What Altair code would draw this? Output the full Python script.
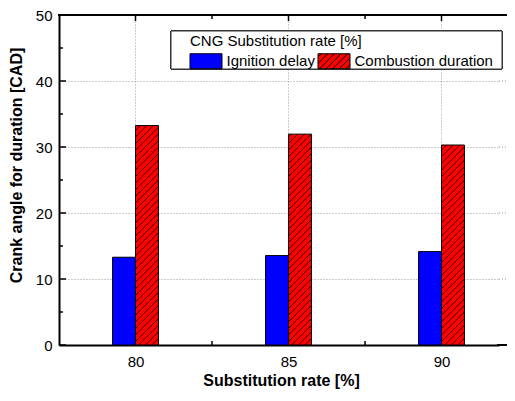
import altair as alt
import pandas as pd
import numpy as np

# ---- data ----
rates = [80, 85, 90]
ignition_delay = [13.3, 13.55, 14.15]
combustion_duration = [33.25, 31.95, 30.3]
series_names = ["Ignition delay", "Combustion duration"]
series_colors = ["#0000ff", "#ff0000"]
legend_title = "CNG Substitution rate [%]"
x_title = "Substitution rate [%]"
y_title = "Crank angle for duration [CAD]"
x_major_ticks = [80, 85, 90]
x_minor_ticks = [82.5, 87.5]
y_major_ticks = [0, 10, 20, 30, 40, 50]
y_minor_ticks = [5, 15, 25, 35, 45]

# ---- layout / style ----
W, H = 440, 330
PAD_TOP = 7
PAD_RIGHT = 8
XDOM = [77.5, 77.5 + 440 / 30.6]
YDOM = [0, 50]
BAR_W = 0.75
HATCH_STEP = 6.6  # px
FONT = "Arial, Liberation Sans, sans-serif"

px_x = W / (XDOM[1] - XDOM[0])
px_y = H / (YDOM[1] - YDOM[0])

rows = []
for r, a, b in zip(rates, ignition_delay, combustion_duration):
    rows.append({"rate": r, "series": series_names[0], "value": a, "x0": r - BAR_W, "x1": r})
    rows.append({"rate": r, "series": series_names[1], "value": b, "x0": r, "x1": r + BAR_W})
bars_df = pd.DataFrame(rows)

# hatch segments for the combustion bars (45 degree lines clipped to each bar)
hrows = []
for r, v in zip(rates, combustion_duration):
    bw = BAR_W * px_x
    bh = v * px_y
    c = -bw
    k = 0
    while c < bh:
        xlo = max(0.0, -c)
        xhi = min(bw, bh - c)
        if xhi > xlo:
            hrows.append({"id": f"{r}-{k}",
                          "hx": r + xlo / px_x, "hy": (xlo + c) / px_y,
                          "hx2": r + xhi / px_x, "hy2": (xhi + c) / px_y})
        c += HATCH_STEP
        k += 1
hatch_df = pd.DataFrame(hrows)

# legend swatch paths (pixel geometry relative to the symbol centre, unit = 7.5 px)
SYM_SIZE = 225
unit = np.sqrt(SYM_SIZE) / 2
sx0, sx1, sy0, sy1 = -8.0, 24.0, -7.5, 7.5


def u(v):
    return f"{v / unit:.3f}"


rect_path = f"M{u(sx0)},{u(sy0)}L{u(sx1)},{u(sy0)}L{u(sx1)},{u(sy1)}L{u(sx0)},{u(sy1)}Z"
hp = rect_path
c = sx0 + sy0 + HATCH_STEP / 2  # lines y = -x + c (svg coords)
while c < sx1 + sy1:
    xlo = max(sx0, c - sy1)
    xhi = min(sx1, c - sy0)
    if xhi > xlo:
        hp += f"M{u(xlo)},{u(c - xlo)}L{u(xhi)},{u(c - xhi)}"
    c += HATCH_STEP
shape_paths = [rect_path, hp]

xscale = alt.Scale(domain=XDOM, nice=False, zero=False)
yscale = alt.Scale(domain=YDOM, nice=False)
cscale = alt.Scale(domain=series_names, range=series_colors)

base = alt.Chart(bars_df)

bars = base.mark_rect(stroke="black", strokeWidth=1).encode(
    x=alt.X("x0:Q", scale=xscale,
            axis=alt.Axis(values=x_major_ticks, title=x_title, format="d",
                          grid=True, ticks=False, labelPadding=9,
                          titleBaseline="alphabetic", titleY=385 - 8 - PAD_TOP - H,
                          titleX=222)),
    x2="x1:Q",
    y=alt.Y("value:Q", scale=yscale,
            axis=alt.Axis(values=y_major_ticks, title=y_title, grid=True,
                          ticks=False, labelPadding=7, titleX=-35,
                          titleY=165 - 8 - PAD_TOP)),
    y2=alt.datum(0),
    color=alt.Color("series:N", scale=cscale),
)

hatch = alt.Chart(hatch_df).mark_rule(color="black", strokeWidth=0.8).encode(
    x=alt.X("hx:Q", scale=xscale), x2="hx2:Q",
    y=alt.Y("hy:Q", scale=yscale), y2="hy2:Q",
)

leg = dict(title=legend_title, orient="none", legendX=131, legendY=34 - 8 - PAD_TOP,
           direction="horizontal", symbolSize=SYM_SIZE, symbolStrokeColor="black",
           symbolStrokeWidth=1, symbolOpacity=1, labelOffset=20.5,
           columnPadding=0, titlePadding=4, padding=0)

legend_pts = base.mark_point(filled=True, opacity=0).encode(
    x=alt.X("rate:Q", scale=xscale),
    y=alt.Y("value:Q", scale=yscale),
    color=alt.Color("series:N", scale=cscale, legend=alt.Legend(**leg)),
    shape=alt.Shape("series:N", scale=alt.Scale(domain=series_names, range=shape_paths),
                    legend=alt.Legend(**leg)),
)

legend_box = alt.Chart(bars_df).mark_rect(fill="white", stroke="#333", strokeWidth=1).encode(
    x=alt.value(112), x2=alt.value(443),
    y=alt.value(31 - 8 - PAD_TOP), y2=alt.value(69 - 8 - PAD_TOP)
)

# axis frame: top / bottom lines (thin filled bands) and inward ticks
tick_df = pd.DataFrame({"v": x_major_ticks})
tick_minor_df = pd.DataFrame({"v": x_minor_ticks})
ytick_df = pd.DataFrame({"v": y_major_ticks})
ytick_minor_df = pd.DataFrame({"v": y_minor_ticks})
frame_df = pd.DataFrame({"k": [0]})

top_line = alt.Chart(frame_df).mark_rect(color="black").encode(
    x=alt.value(-1), x2=alt.value(W + PAD_RIGHT), y=alt.value(-1), y2=alt.value(1))
bot_line = alt.Chart(frame_df).mark_rect(color="black").encode(
    x=alt.value(W - 2), x2=alt.value(W + PAD_RIGHT), y=alt.value(H - 1), y2=alt.value(H + 1))
top_major = alt.Chart(tick_df).mark_rule(color="black", strokeWidth=1.5).encode(
    x=alt.X("v:Q", scale=xscale), y=alt.value(0), y2=alt.value(6))
top_minor = alt.Chart(tick_minor_df).mark_rule(color="black", strokeWidth=1.5).encode(
    x=alt.X("v:Q", scale=xscale), y=alt.value(0), y2=alt.value(4))
bot_major = alt.Chart(tick_df).mark_rule(color="black", strokeWidth=1.5).encode(
    x=alt.X("v:Q", scale=xscale), y=alt.value(H), y2=alt.value(H - 6))
bot_minor = alt.Chart(tick_minor_df).mark_rule(color="black", strokeWidth=1.5).encode(
    x=alt.X("v:Q", scale=xscale), y=alt.value(H), y2=alt.value(H - 4))
left_major = alt.Chart(ytick_df).mark_rule(color="black", strokeWidth=1.5).encode(
    y=alt.Y("v:Q", scale=yscale), x=alt.value(0), x2=alt.value(7))
left_minor = alt.Chart(ytick_minor_df).mark_rule(color="black", strokeWidth=1.5).encode(
    y=alt.Y("v:Q", scale=yscale), x=alt.value(0), x2=alt.value(4))
ygrid_df = pd.DataFrame({"v": y_major_ticks[1:-1]})
ygrid_ext = alt.Chart(ygrid_df).mark_rule(color="#999999", strokeWidth=1, strokeDash=[1, 2]).encode(
    y=alt.Y("v:Q", scale=yscale), x=alt.value(W), x2=alt.value(W + PAD_RIGHT))

chart = alt.layer(
    ygrid_ext, bot_major, bars, hatch, bot_minor, legend_box, legend_pts,
    bot_line, top_line, top_major, top_minor, left_major, left_minor,
).properties(
    width=W, height=H,
    padding={"left": 51, "top": PAD_TOP, "right": PAD_RIGHT, "bottom": 45},
    autosize=alt.AutoSizeParams(type="none"),
    background="white",
).configure_view(stroke="transparent", strokeWidth=0).configure_axis(
    labelFont=FONT, titleFont=FONT, labelFontSize=15, titleFontSize=16,
    labelColor="black", titleColor="black", titleFontWeight="bold",
    domainColor="black", domainWidth=2,
    gridColor="#999999", gridDash=[1, 2], gridWidth=1,
).configure_legend(
    titleFont=FONT, labelFont=FONT, titleFontSize=15, labelFontSize=15,
    titleFontWeight="normal", titleColor="black", labelColor="black",
)

chart.save("out.html", embed_options={"renderer": "svg", "actions": False})
